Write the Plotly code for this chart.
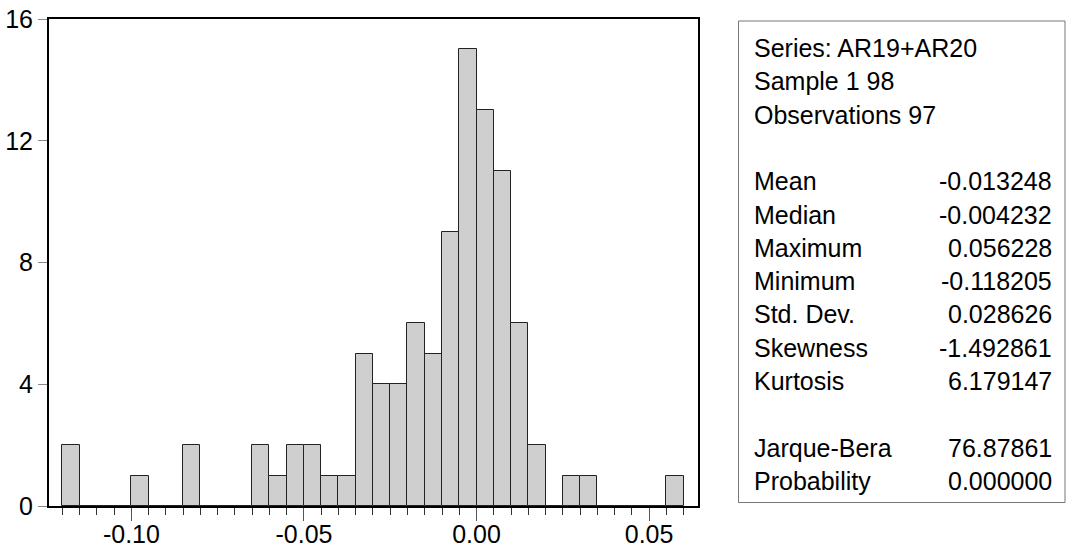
import numpy as np
import plotly.graph_objects as go

# Histogram data (EViews style): bins of width 0.005 starting at -0.12
bin_start = -0.12
bin_width = 0.005
counts = [2, 0, 0, 0, 1, 0, 0, 2, 0, 0, 0, 2, 1, 2, 2, 1, 1, 5,
          4, 4, 6, 5, 9, 15, 13, 11, 6, 2, 0, 1, 1, 0, 0, 0, 0, 1]

x_tick_vals = [-0.10, -0.05, 0.00, 0.05]
x_tick_text = ["-0.10", "-0.05", "0.00", "0.05"]
y_tick_vals = [0, 4, 8, 12, 16]
y_tick_text = ["0", "4", "8", "12", "16"]

stat_labels = ["Series: AR19+AR20", "Sample 1 98", "Observations 97", "",
               "Mean", "Median", "Maximum", "Minimum", "Std. Dev.",
               "Skewness", "Kurtosis", "", "Jarque-Bera", "Probability"]
stat_values = ["", "", "", "",
               "-0.013248", "-0.004232", "0.056228", "-0.118205", "0.028626",
               "-1.492861", "6.179147", "", "76.87861", "0.000000"]

centers = [bin_start + (i + 0.5) * bin_width for i in range(len(counts))]

FONT = "Liberation Sans, Arial, sans-serif"
W, H = 1066, 552
ML, MR, MT, MB = 49, 368, 19, 46
PW, PH = W - ML - MR, H - MT - MB

fig = go.Figure()
fig.add_trace(go.Bar(
    x=centers, y=counts, width=bin_width,
    marker=dict(color="#CFCFCF", line=dict(color="#222222", width=1)),
    hoverinfo="x+y", showlegend=False,
))

def px_x(px):
    return (px - ML) / PW

def px_y(py):
    return (H - MB - py) / PH

annotations = []
for i, (lab, val) in enumerate(zip(stat_labels, stat_values)):
    ypix = 48 + 33.3 * i
    if lab:
        annotations.append(dict(
            x=px_x(752), y=px_y(ypix), xref="paper", yref="paper",
            text=lab, showarrow=False, xanchor="left", yanchor="middle",
            font=dict(family=FONT, size=25, color="black")))
    if val:
        annotations.append(dict(
            x=px_x(1054), y=px_y(ypix), xref="paper", yref="paper",
            text=val, showarrow=False, xanchor="right", yanchor="middle",
            font=dict(family=FONT, size=25, color="black")))

fig.update_layout(
    width=W, height=H,
    margin=dict(l=ML, r=MR, t=MT, b=MB, pad=0, autoexpand=False),
    paper_bgcolor="white", plot_bgcolor="white",
    bargap=0,
    font=dict(family=FONT, size=25, color="black"),
    annotations=annotations,
    shapes=[dict(type="rect", xref="paper", yref="paper",
                 x0=px_x(738.5), x1=px_x(1065), y0=px_y(502.5), y1=px_y(21),
                 line=dict(color="#777777", width=1), fillcolor="rgba(0,0,0,0)")],
    xaxis=dict(
        range=[-0.12388, 0.06418],
        tickvals=x_tick_vals, ticktext=x_tick_text,
        ticks="outside", ticklen=13, tickwidth=1, tickcolor="#555555",
        ticklabelstandoff=-8,
        showline=True, linecolor="black", linewidth=2, mirror=True,
        showgrid=False, zeroline=False, automargin=False,
        minor=dict(tick0=0, dtick=bin_width, ticks="outside", ticklen=7,
                   tickwidth=1, tickcolor="#333333", showgrid=False),
        tickfont=dict(family=FONT, size=25, color="black"),
        fixedrange=True,
    ),
    yaxis=dict(
        range=[0, 16],
        tickvals=y_tick_vals, ticktext=y_tick_text,
        ticks="outside", ticklen=9, tickwidth=1, tickcolor="#888888",
        showline=True, linecolor="black", linewidth=2, mirror=True,
        showgrid=False, zeroline=False, automargin=False,
        tickfont=dict(family=FONT, size=25, color="black"),
        fixedrange=True,
    ),
)

fig.write_html(
    "out.html",
    config={"displayModeBar": False},
    post_script="document.body.style.margin='0';document.body.style.overflow='hidden';",
)
